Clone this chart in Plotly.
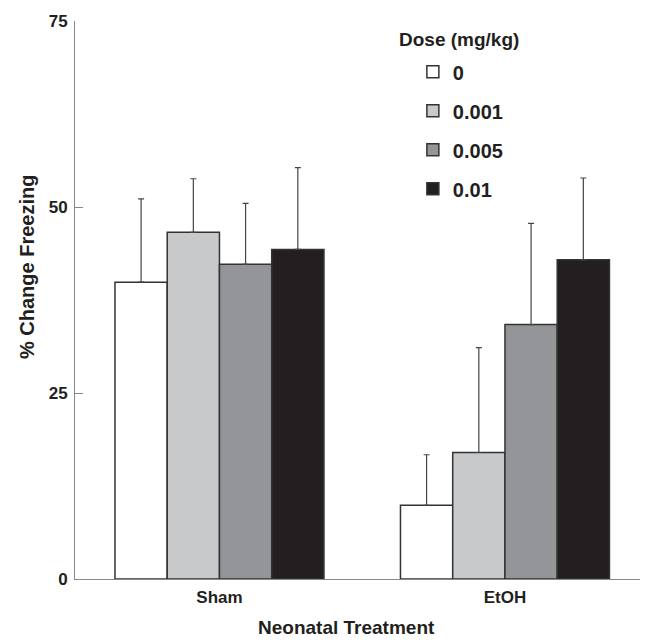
import plotly.graph_objects as go

groups = ["Sham", "EtOH"]
doses = ["0", "0.001", "0.005", "0.01"]
means = {
    "0": [39.9, 9.9],
    "0.001": [46.6, 17.0],
    "0.005": [42.3, 34.2],
    "0.01": [44.3, 42.9],
}
errors = {
    "0": [11.2, 6.8],
    "0.001": [7.2, 14.1],
    "0.005": [8.2, 13.6],
    "0.01": [11.0, 11.0],
}
colors = ["#ffffff", "#c8c9cb", "#939598", "#231f20"]

FONT = "Liberation Sans, Arial, sans-serif"
TXT = "#231f20"

fig = go.Figure()
for d, c in zip(doses, colors):
    fig.add_trace(go.Bar(
        x=groups, y=means[d], name="<b>%s</b>" % d,
        marker=dict(color=c, line=dict(color="#333333", width=1.5)),
        error_y=dict(type="data", array=errors[d], arrayminus=[0, 0], symmetric=False,
                     color="#444444", thickness=1.2, width=3),
        legendgroup=d,
    ))

fig.update_layout(
    width=652, height=642,
    margin=dict(l=75, r=12, t=17, b=63),
    paper_bgcolor="white", plot_bgcolor="white",
    barmode="group", bargap=0.268, bargroupgap=0,
    font=dict(family=FONT, color=TXT),
    showlegend=True,
    legend=dict(x=0.598, y=0.944, xanchor="left", yanchor="top",
                font=dict(size=20, family=FONT, color=TXT),
                tracegroupgap=10, bgcolor="rgba(0,0,0,0)"),
    xaxis=dict(range=[-0.506, 1.473], showline=True, linecolor="#888888", linewidth=1,
               ticks="", tickfont=dict(size=17, family=FONT, color=TXT),
               tickvals=[0, 1], ticktext=["<b>Sham</b>", "<b>EtOH</b>"],
               ticklabelstandoff=3),
    yaxis=dict(range=[0, 75], tickvals=[0, 25, 50, 75], ticktext=["<b>0</b>", "<b>25</b>", "<b>50</b>", "<b>75</b>"],
               showline=True, linecolor="#888888", linewidth=1, ticks="inside", ticklen=8,
               tickcolor="#888888", showgrid=False, zeroline=False,
               tickfont=dict(size=17, family=FONT, color=TXT), ticklabelstandoff=3),
    annotations=[
        dict(text="<b>Dose (mg/kg)</b>", xref="paper", yref="paper", x=0.57, y=0.966,
             xanchor="left", yanchor="middle", showarrow=False,
             font=dict(size=19, family=FONT, color=TXT)),
        dict(text="<b>% Change Freezing</b>", xref="paper", yref="paper", x=-0.085, y=0.559,
             xanchor="center", yanchor="middle", textangle=-90, showarrow=False,
             font=dict(size=20, family=FONT, color=TXT)),
        dict(text="<b>Neonatal Treatment</b>", xref="paper", yref="paper", x=0.481, y=-0.087,
             xanchor="center", yanchor="middle", showarrow=False,
             font=dict(size=19, family=FONT, color=TXT)),
    ],
)

fig.write_html("out.html")
